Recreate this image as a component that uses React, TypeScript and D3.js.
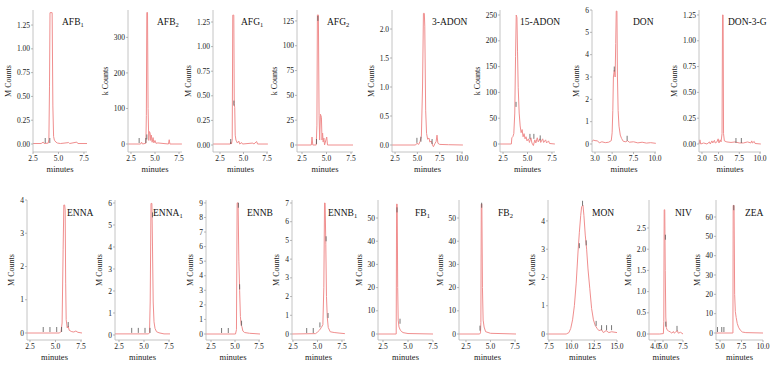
import React from 'react';
import * as d3 from 'd3';

type Pt = [number, number];

// ---------- DATA ----------
const titles: string[] = ['AFB', 'AFB', 'AFG', 'AFG', '3-ADON', '15-ADON', 'DON', 'DON-3-G',
  'ENNA', 'ENNA', 'ENNB', 'ENNB', 'FB', 'FB', 'MON', 'NIV', 'ZEA'];
const titleSubs: string[] = ['1', '2', '1', '2', '', '', '', '', '', '1', '', '1', '1', '2', '', '', ''];
const units: string[] = ['M Counts', 'k Counts', 'M Counts', 'k Counts', 'M Counts', 'k Counts', 'M Counts', 'M Counts',
  'M Counts', 'M Counts', 'M Counts', 'M Counts', 'M Counts', 'M Counts', 'M Counts', 'M Counts', 'M Counts'];

const xTicks: number[][] = [
  [2.5, 5, 7.5], [2.5, 5, 7.5], [2.5, 5, 7.5], [2.5, 5, 7.5], [2.5, 5, 7.5, 10], [2.5, 5, 7.5], [3, 5, 7.5, 10], [3, 5, 7.5, 10],
  [2.5, 5, 7.5], [2.5, 5, 7.5], [2.5, 5, 7.5], [2.5, 5, 7.5], [2.5, 5, 7.5], [2.5, 5, 7.5], [7.5, 10, 12.5, 15], [4, 5, 7.5], [5, 7.5, 10],
];
const yTicks: number[][] = [
  [0, 0.25, 0.5, 0.75, 1, 1.25], [0, 100, 200, 300], [0, 0.25, 0.5, 0.75, 1, 1.25], [0, 25, 50, 75, 100, 125],
  [0, 0.5, 1, 1.5, 2], [0, 50, 100, 150, 200, 250], [0, 1, 2, 3, 4, 5, 6], [0, 0.25, 0.5, 0.75, 1, 1.25],
  [0, 1, 2, 3, 4], [0, 1, 2, 3, 4, 5, 6], [0, 1, 2, 3, 4, 5, 6, 7, 8, 9], [0, 1, 2, 3, 4, 5, 6, 7],
  [0, 10, 20, 30, 40, 50], [0, 10, 20, 30, 40, 50], [0, 1, 2, 3, 4], [0, 0.5, 1, 1.5, 2, 2.5], [0, 10, 20, 30, 40, 50, 60],
];
const yTickDecimals: number[] = [2, 0, 2, 0, 1, 0, 0, 2, 0, 0, 0, 0, 0, 0, 0, 1, 0];

const traceAFB1: Pt[] = [[2.5,0.005],[3.3,0.005],[3.5,0.02],[3.6,0.005],[4.0,0.01],[4.06,0.05],[4.12,0.6],[4.17,1.38],[4.38,1.38],[4.45,0.4],[4.52,0.08],[4.6,0.04],[4.75,0.02],[4.9,0.01],[5.2,0.005],[6.0,0.015],[6.1,0.005],[6.8,0.02],[6.9,0.005],[7.8,0.005]];
const traceAFB2: Pt[] = [[2.2,0],[3.5,0],[3.6,5],[3.7,0],[4.05,2],[4.1,80],[4.15,370],[4.22,370],[4.28,100],[4.35,10],[4.42,35],[4.5,30],[4.55,10],[4.62,25],[4.7,5],[4.8,18],[4.88,3],[5.0,10],[5.1,2],[5.3,3],[6.4,0],[6.48,12],[6.55,0],[7.8,0]];
const traceAFG1: Pt[] = [[1.76,0.01],[3.6,0.01],[3.66,0.03],[3.72,0.01],[3.8,0.05],[3.86,1.32],[3.97,1.32],[4.02,0.42],[4.07,0.38],[4.12,0.1],[4.2,0.05],[4.35,0.02],[4.5,0.04],[4.6,0.01],[4.8,0.025],[4.9,0.01],[6.0,0.02],[6.1,0.01],[6.4,0.035],[6.5,0.01],[7.6,0.01]];
const traceAFG2: Pt[] = [[2,0],[3.45,0],[3.52,8],[3.6,0],[3.95,0],[4.02,20],[4.07,131],[4.17,131],[4.24,30],[4.3,5],[4.38,31],[4.48,28],[4.54,5],[4.6,12],[4.66,3],[4.73,7],[4.8,0],[5.02,8],[5.1,0],[7.7,0]];
const trace3ADON: Pt[] = [[2.16,0],[4.8,0],[4.95,0.03],[5.15,0.01],[5.3,0.06],[5.45,0.15],[5.58,1.0],[5.68,2.27],[5.78,2.27],[5.83,2.05],[5.93,0.6],[6.03,0.2],[6.15,0.1],[6.3,0.12],[6.4,0.05],[6.55,0.07],[6.7,0.0],[6.8,-0.03],[6.95,0.02],[7.1,0.06],[7.2,0.17],[7.3,0.03],[7.5,0.01],[8.5,0.005],[10.1,0.0]];
const trace15ADON: Pt[] = [[2.19,0],[3.35,0],[3.4,12],[3.5,14],[3.6,20],[3.7,60],[3.78,170],[3.85,250],[3.92,245],[3.98,180],[4.05,110],[4.15,60],[4.25,35],[4.35,22],[4.45,28],[4.55,14],[4.65,20],[4.75,10],[4.85,14],[4.95,6],[5.1,10],[5.2,3],[5.35,12],[5.45,2],[5.6,-3],[5.75,8],[5.85,2],[6.0,12],[6.1,4],[6.25,10],[6.35,3],[6.55,10],[6.65,3],[6.85,8],[6.95,2],[7.15,6],[7.25,1],[7.8,0]];
const traceDON: Pt[] = [[2.65,0.1],[2.8,0.18],[3.0,0.15],[3.3,0.14],[3.5,0.05],[3.8,0.1],[4.2,0.06],[4.6,0.08],[4.9,0.15],[5.0,0.5],[5.08,1.5],[5.15,3.0],[5.25,3.3],[5.35,3.0],[5.42,4.5],[5.48,5.95],[5.56,5.95],[5.62,3.0],[5.7,1.5],[5.8,0.8],[5.95,0.4],[6.1,0.25],[6.3,0.12],[6.6,0.1],[6.8,0.15],[7.0,0.08],[7.5,0.1],[8.0,0.05],[8.5,0.08],[9.0,0.04],[9.5,0.06],[10.1,0.03]];
const traceDON3G: Pt[] = [[2.64,0.0],[2.75,0.04],[2.85,0.0],[3.2,0.01],[3.6,0.0],[3.9,0.02],[4.0,0.0],[4.2,0.03],[4.3,0.01],[4.5,0.035],[4.6,0.01],[4.8,0.02],[4.95,0.05],[5.05,0.01],[5.2,0.04],[5.3,0.02],[5.42,0.1],[5.48,1.25],[5.55,1.25],[5.6,0.1],[5.7,0.03],[6.0,0.02],[6.5,0.015],[7.0,0.02],[7.5,0.01],[8.0,0.01],[8.5,0.02],[8.9,0.01],[9.0,0.03],[9.1,0.01],[9.3,0.025],[9.4,0.005],[10.1,0.0]];
const traceENNA: Pt[] = [[2.21,0],[5.4,0.0],[5.55,0.05],[5.65,0.3],[5.75,2.5],[5.82,3.85],[5.9,3.85],[5.95,3.7],[6.0,1.5],[6.05,0.4],[6.15,0.15],[6.25,0.2],[6.35,0.08],[6.6,0.04],[6.8,0.03],[7.0,0.06],[7.2,0.02],[7.6,0.0]];
const traceENNA1: Pt[] = [[2.1,0.05],[5.45,0.05],[5.55,0.1],[5.62,1.5],[5.7,5.98],[5.79,5.98],[5.85,4.0],[5.92,1.5],[6.0,0.6],[6.1,0.3],[6.25,0.15],[6.5,0.1],[7.0,0.05],[7.6,0.05]];
const traceENNB: Pt[] = [[1.98,0],[5.05,0],[5.15,0.3],[5.22,9.0],[5.32,9.0],[5.4,5.0],[5.48,3.0],[5.56,1.2],[5.64,0.6],[5.72,0.5],[5.82,0.2],[6.0,0.1],[6.5,0.05],[7.6,0]];
const traceENNB1: Pt[] = [[2.4,0],[4.8,0.02],[5.0,0.1],[5.2,0.2],[5.4,0.35],[5.55,0.5],[5.65,2.5],[5.72,7.0],[5.78,7.0],[5.85,4.8],[5.92,2.0],[6.0,0.9],[6.1,0.35],[6.3,0.12],[6.7,0.08],[7.2,0.05],[7.8,0.02]];
const traceFB1: Pt[] = [[2.0,0],[3.82,0],[3.86,56],[3.92,56],[3.97,20],[4.02,6],[4.1,3],[4.25,1.5],[4.5,0.6],[5.0,0.2],[7.5,0]];
const traceFB2: Pt[] = [[1.8,0],[3.9,0],[3.98,0.5],[4.02,5],[4.06,56],[4.12,56],[4.18,20],[4.25,6],[4.35,3],[4.5,1],[5.0,0.3],[7.6,0]];
const traceMON: Pt[] = [[7.4,0],[9.4,0],[9.7,0.05],[9.9,0.2],[10.1,0.5],[10.3,1.0],[10.5,1.8],[10.7,2.9],[10.85,3.6],[11.0,4.2],[11.1,4.5],[11.25,4.55],[11.35,4.2],[11.5,3.5],[11.65,3.0],[11.8,2.3],[12.0,1.6],[12.2,0.9],[12.4,0.5],[12.6,0.3],[12.8,0.2],[13.0,0.12],[13.3,0.15],[13.5,0.05],[13.8,0.12],[14.1,0.05],[14.4,0.08],[15.0,0.05]];
const traceNIV: Pt[] = [[3.25,0],[4.6,0.0],[5.05,0.01],[5.1,0.3],[5.15,2.93],[5.22,2.93],[5.28,1.5],[5.35,0.4],[5.42,0.15],[5.5,0.1],[5.7,0.07],[5.9,0.05],[6.1,0.02],[6.3,0.06],[6.4,0.02],[6.6,0.05],[6.8,0.08],[6.9,0.02],[7.2,0.04],[7.5,0.0]];
const traceZEA: Pt[] = [[4.53,0],[6.5,0],[6.53,66],[6.63,66],[6.7,20],[6.78,11],[6.88,8],[7.0,5],[7.15,3],[7.35,1.5],[7.6,0.5],[8.0,0.2],[10,0]];

const traces: Pt[][] = [traceAFB1, traceAFB2, traceAFG1, traceAFG2, trace3ADON, trace15ADON, traceDON, traceDON3G,
  traceENNA, traceENNA1, traceENNB, traceENNB1, traceFB1, traceFB2, traceMON, traceNIV, traceZEA];

const markers: Pt[][] = [
  [[3.7,0.0],[4.15,0.0]],
  [[3.35,0],[4.05,0],[4.15,10]],
  [[3.64,0.0],[3.98,0.39]],
  [[3.98,0],[4.12,124]],
  [[4.95,0.02],[5.4,0.04],[6.65,0.0]],
  [[3.83,70],[5.25,8],[5.65,8],[6.3,5]],
  [[5.25,3.2],[6.75,0.1]],
  [[7.1,0.0],[7.75,0.0]],
  [[3.8,0],[4.46,0],[5.12,0],[5.6,0],[6.25,0.15]],
  [[3.77,0.05],[4.43,0.05],[5.1,0.05],[5.6,0.05],[5.85,5.3]],
  [[3.6,0],[4.3,0],[5.35,8.6],[5.48,3.0],[5.68,0.5]],
  [[3.9,0],[4.57,0],[5.25,0.3],[5.88,4.9],[6.08,0.8]],
  [[3.9,52],[4.2,4]],
  [[3.93,1],[4.1,54]],
  [[10.85,3.0],[11.2,4.5],[11.6,3.1],[12.7,0.25],[13.3,0.1],[13.85,0.1],[14.4,0.1]],
  [[5.3,2.2],[5.35,0.15],[6.75,0.05]],
  [[4.7,0],[5.2,0],[5.45,0],[6.6,63]],
];

// ---------- LAYOUT ----------
const layoutAxisX = [33, 128, 213, 297, 392, 500, 592, 699, 27, 115, 206, 292, 378, 459, 548, 649, 716];
const layoutRightX = [87, 182, 268, 353, 463, 555, 656, 761, 82, 170, 260, 345, 433, 516, 617, 683, 763];
const layoutXDom: [number, number][] = [[2.5,7.8],[2.19,7.81],[1.755,7.61],[1.99,7.7],[2.16,10.11],[2.19,7.81],[2.65,10.12],[2.64,10.12],
  [2.21,7.6],[2.1,7.6],[1.98,7.6],[2.4,7.81],[2.0,7.5],[1.79,7.6],[7.39,15.0],[3.25,7.5],[4.53,10.0]];
const layoutZeroY = [144,144,145,145,145,144,144,144, 333,335,334,334,334,334,334,334,333];
const layoutYMax = [1.408,377,1.372,136,2.328,259.7,6.0,1.298, 4.0,6.136,9.2,7.16,57.76,57.76,4.74,3.16,68.8];
const layoutTitleX = [62,157,241,327,432,520,633,728, 67,153,247,328,415,498,592,675,745];
const rowTop = [10, 200];
const rowAxisY = [152, 340];
const rowTitleY = [25, 216];

const FONT = "'Liberation Serif', 'Times New Roman', Times, serif";
const txt = { fontFamily: FONT };

function Panel({ i }: { i: number }) {
  const row = i < 8 ? 0 : 1;
  const top = rowTop[row];
  const axisY = rowAxisY[row];
  const ax = layoutAxisX[i];
  const rx = layoutRightX[i];
  const x = d3.scaleLinear().domain(layoutXDom[i]).range([ax, rx]);
  const y = d3.scaleLinear().domain([0, layoutYMax[i]]).range([layoutZeroY[i], top]);
  const line = d3.line<Pt>().x(d => x(d[0])).y(d => y(d[1]));
  const dec = yTickDecimals[i];
  const yt = yTicks[i];
  const maxLabelW = d3.max(yt, v => v.toFixed(dec).length * 3.75 - (dec > 0 ? 1.9 : 0)) || 8;
  const labelX = ax - 3 - maxLabelW - 6;
  const labelY = (top + axisY) / 2;
  return (
    <g>
      <path d={line(traces[i]) || ''} fill="none" stroke="#f08e8e" strokeWidth={1} strokeLinejoin="round" />
      {markers[i].map((m, k) => (
        <line key={k} x1={x(m[0])} x2={x(m[0])} y1={y(m[1]) - 6} y2={y(m[1]) - 1} stroke="#555" strokeWidth={0.8} />
      ))}
      <line x1={ax} x2={ax} y1={top} y2={axisY} stroke="#b5b5b5" strokeWidth={0.8} />
      <line x1={ax} x2={rx} y1={axisY} y2={axisY} stroke="#b5b5b5" strokeWidth={0.8} />
      {yt.map(v => (
        <g key={v}>
          <line x1={ax - 2} x2={ax} y1={y(v)} y2={y(v)} stroke="#999" strokeWidth={0.7} />
          <text x={ax - 3} y={y(v) + 2.6} fontSize={7.5} textAnchor="end" fill="#222" style={txt}>{v.toFixed(dec)}</text>
        </g>
      ))}
      {xTicks[i].map(v => (
        <g key={v}>
          <line x1={x(v)} x2={x(v)} y1={axisY} y2={axisY + 2} stroke="#999" strokeWidth={0.7} />
          <text x={x(v)} y={axisY + 8.5} fontSize={7.5} textAnchor="middle" fill="#222" style={txt}>{v.toFixed(1)}</text>
        </g>
      ))}
      <text x={(ax + rx) / 2} y={axisY + 19.5} fontSize={8.5} textAnchor="middle" fill="#222" style={txt}>minutes</text>
      <text transform={`translate(${labelX},${labelY}) rotate(-90)`} fontSize={8} textAnchor="middle" fill="#222" style={txt}>{units[i]}</text>
      <text x={layoutTitleX[i]} y={rowTitleY[row]} fontSize={9.5} fill="#111" style={txt}>
        {titles[i]}
        {titleSubs[i] ? <tspan fontSize={6.5} dy={2}>{titleSubs[i]}</tspan> : null}
      </text>
    </g>
  );
}

export default function App() {
  return (
    <svg width={781} height={377} style={{ position: 'absolute', left: 0, top: 0, background: '#fff' }}>
      <rect width={781} height={377} fill="#fff" />
      {titles.map((_, i) => <Panel key={i} i={i} />)}
    </svg>
  );
}
